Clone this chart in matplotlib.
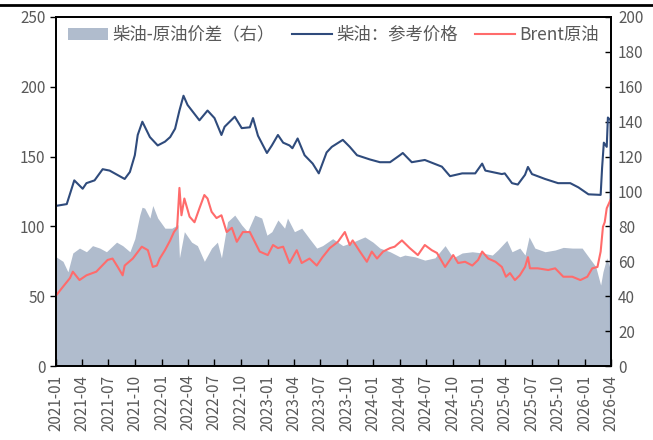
import matplotlib
matplotlib.use("Agg")
import matplotlib.pyplot as plt
import matplotlib.dates as mdates
from matplotlib.lines import Line2D
import pandas as pd

plt.rcParams['font.family'] = ['Noto Sans CJK SC', 'DejaVu Sans']

# 柴油：参考价格 (left axis)
diesel_dates = ["2021-01-01", "2021-01-03", "2021-02-07", "2021-03-05", "2021-04-03", "2021-04-16",
                "2021-05-14", "2021-06-11", "2021-07-05", "2021-08-26", "2021-09-13", "2021-09-30",
                "2021-10-10", "2021-10-26", "2021-11-21", "2021-12-18", "2022-01-12", "2022-01-30",
                "2022-02-16", "2022-03-03", "2022-03-17", "2022-03-31", "2022-05-11", "2022-06-08",
                "2022-07-02", "2022-07-26", "2022-08-06", "2022-09-10", "2022-10-04", "2022-11-01",
                "2022-11-12", "2022-11-29", "2022-12-30", "2023-01-16", "2023-02-06", "2023-02-24",
                "2023-03-18", "2023-03-28", "2023-04-15", "2023-05-09", "2023-06-06", "2023-06-27",
                "2023-07-24", "2023-08-11", "2023-09-18", "2023-10-12", "2023-11-06", "2023-12-20",
                "2024-01-24", "2024-02-28", "2024-04-02", "2024-04-12", "2024-05-13", "2024-06-27",
                "2024-08-25", "2024-09-22", "2024-11-03", "2024-12-18", "2025-01-11", "2025-01-22",
                "2025-03-20", "2025-03-30", "2025-04-24", "2025-05-14", "2025-06-08", "2025-06-18",
                "2025-07-02", "2025-08-16", "2025-09-30", "2025-11-11", "2025-12-09", "2026-01-13",
                "2026-02-24", "2026-03-01", "2026-03-07", "2026-03-17", "2026-03-21", "2026-03-30",
                "2026-04-01"]
diesel_vals = [114.5, 114.8, 116, 133, 127, 131,
               133, 141, 140, 134, 139, 151,
               165.5, 175, 164, 158, 160.7, 164,
               170, 183, 193.6, 187, 176, 183,
               177.6, 165.5, 171.4, 178.6, 170.4, 171,
               177.6, 165, 152.6, 158, 165.5, 160,
               158, 156, 163, 151, 145, 138,
               153, 157, 162, 157, 151, 148,
               146, 146, 151, 152.6, 146, 147.6,
               142.8, 136, 138, 138, 145, 140,
               137.5, 138, 131, 130, 137, 142.6,
               137.5, 134, 131, 131, 128, 123,
               122.6, 142, 160, 157, 178, 176,
               0]

# Brent原油 (left axis)
brent_dates = ["2021-01-01", "2021-01-25", "2021-02-18", "2021-02-28", "2021-03-23", "2021-04-16",
               "2021-05-20", "2021-06-28", "2021-07-15", "2021-08-02", "2021-08-19", "2021-08-26",
               "2021-09-23", "2021-10-24", "2021-11-14", "2021-12-01", "2021-12-15", "2021-12-25",
               "2022-01-12", "2022-01-30", "2022-02-12", "2022-02-23", "2022-03-03", "2022-03-10",
               "2022-03-20", "2022-04-07", "2022-04-24", "2022-05-11", "2022-05-28", "2022-06-08",
               "2022-06-22", "2022-07-09", "2022-07-26", "2022-08-13", "2022-08-31", "2022-09-17",
               "2022-10-08", "2022-11-01", "2022-11-18", "2022-12-05", "2023-01-02", "2023-01-20",
               "2023-02-06", "2023-02-24", "2023-03-18", "2023-04-12", "2023-04-29", "2023-05-26",
               "2023-06-20", "2023-07-10", "2023-08-04", "2023-09-01", "2023-09-25", "2023-10-12",
               "2023-10-22", "2023-11-16", "2023-12-10", "2023-12-27", "2024-01-14", "2024-02-04",
               "2024-02-28", "2024-03-15", "2024-04-09", "2024-05-06", "2024-06-03", "2024-06-27",
               "2024-07-21", "2024-08-08", "2024-09-05", "2024-10-03", "2024-10-20", "2024-11-13",
               "2024-12-08", "2024-12-28", "2025-01-11", "2025-02-01", "2025-02-26", "2025-03-20",
               "2025-04-03", "2025-04-17", "2025-05-04", "2025-05-21", "2025-06-08", "2025-06-18",
               "2025-06-25", "2025-07-22", "2025-08-27", "2025-09-20", "2025-10-18", "2025-11-18",
               "2025-12-16", "2026-01-09", "2026-01-26", "2026-02-13", "2026-02-24", "2026-03-04",
               "2026-03-10", "2026-03-17", "2026-03-30"]
brent_vals = [50.5, 56.8, 63, 67.6, 61.6, 65,
              67.6, 76, 77, 71, 65, 72,
              77, 85.5, 83, 71, 72, 77,
              83, 90, 96, 99, 127.6, 108,
              120, 107, 103, 113, 122.5, 120,
              110.5, 106, 108, 96, 99, 89,
              96, 96, 89, 82, 79.5, 86.7,
              84.5, 85.5, 73.8, 83, 73.8, 77,
              72, 78, 84.5, 89, 96, 86.7,
              90, 82, 74.7, 82, 77, 82,
              84.5, 85.5, 90, 84.5, 79.5, 86.7,
              83, 81, 71, 79.5, 73.8, 74.7,
              72, 76, 82, 77, 74.7, 71,
              64, 66.6, 61.6, 65, 71, 78,
              70, 70, 68.8, 70, 64, 64,
              61.6, 64, 70, 71, 82, 99.8,
              103, 113, 119]

# 柴油-原油价差（右） (right axis)
spread_dates = ["2021-01-01", "2021-01-25", "2021-02-11", "2021-02-28", "2021-03-23", "2021-04-16",
                "2021-05-07", "2021-06-01", "2021-06-24", "2021-07-29", "2021-08-19", "2021-09-13",
                "2021-09-30", "2021-10-17", "2021-10-25", "2021-11-03", "2021-11-21", "2021-12-01",
                "2021-12-18", "2022-01-12", "2022-02-05", "2022-02-26", "2022-03-03", "2022-03-20",
                "2022-04-14", "2022-05-04", "2022-05-28", "2022-06-22", "2022-07-12", "2022-07-26",
                "2022-08-16", "2022-09-10", "2022-10-04", "2022-10-24", "2022-11-18", "2022-12-12",
                "2022-12-30", "2023-01-16", "2023-02-06", "2023-03-01", "2023-03-11", "2023-04-04",
                "2023-04-29", "2023-05-26", "2023-06-20", "2023-07-10", "2023-08-14", "2023-09-18",
                "2023-10-22", "2023-12-03", "2023-12-31", "2024-01-24", "2024-02-28", "2024-04-02",
                "2024-04-19", "2024-05-24", "2024-06-27", "2024-08-01", "2024-09-05", "2024-10-03",
                "2024-11-03", "2024-12-08", "2025-01-11", "2025-02-15", "2025-03-06", "2025-04-06",
                "2025-04-24", "2025-05-21", "2025-06-08", "2025-06-22", "2025-07-12", "2025-08-16",
                "2025-09-20", "2025-10-18", "2025-11-18", "2025-12-22", "2026-01-13", "2026-02-07",
                "2026-02-24", "2026-03-04", "2026-03-17", "2026-03-30", "2026-04-01"]
spread_vals = [62.6, 60, 54, 64.8, 67.6, 65.5,
               69, 67.6, 65.5, 71, 69, 65.5,
               73, 86.5, 91, 90.5, 84.8, 92,
               84.8, 79, 79, 81, 62, 77,
               71, 69, 60, 67.6, 71, 62,
               82.7, 86.5, 80.8, 77, 86.5, 84.8,
               75, 77, 83.7, 79, 84.8, 77,
               79, 73, 67.6, 69, 73, 69,
               71, 74, 71, 67.6, 65.5, 62.6,
               63.6, 62.6, 60.7, 62, 69, 62,
               64.8, 65.5, 64.8, 63.6, 66.5, 72,
               65.5, 67.6, 63.6, 74, 67.6, 65.5,
               66.5, 68, 67.6, 67.6, 62.6, 57,
               46.4, 54, 62, 55, 0]

quarter_ticks = pd.date_range("2021-01-01", "2026-04-01", freq="QS")

fig = plt.figure(figsize=(6.53, 4.40), dpi=100)
ax = fig.add_axes([0.0858, 0.168, 0.85, 0.7934])
ax2 = ax.twinx()

ax2.fill_between(pd.to_datetime(spread_dates), spread_vals, color="#b0bccd", lw=0,
                 label="柴油-原油价差（右）")
ax.plot(pd.to_datetime(diesel_dates), diesel_vals, color="#2f4b7c", lw=1.5, label="柴油：参考价格")
ax.plot(pd.to_datetime(brent_dates), brent_vals, color="#ff6b6b", lw=1.5, label="Brent原油")

ax.set_zorder(ax2.get_zorder() + 1)
ax.patch.set_visible(False)

ax.set_xlim(pd.Timestamp("2021-01-01"), pd.Timestamp("2026-04-01"))
ax.set_ylim(0, 250)
ax2.set_ylim(0, 200)
ax.set_yticks(range(0, 251, 50))
ax2.set_yticks(range(0, 201, 20))
ax.set_xticks(quarter_ticks)
ax.xaxis.set_major_formatter(mdates.DateFormatter("%Y-%m"))

gray = "#595959"
ax.tick_params(axis="y", direction="out", length=4, width=1, colors="black", labelcolor=gray, labelsize=11)
ax.tick_params(axis="x", direction="in", length=5, width=1, colors="black", labelcolor=gray, labelsize=11,
               labelrotation=90, pad=6)
ax2.tick_params(axis="y", direction="in", length=4, width=1, colors="black", labelcolor=gray, labelsize=11,
                pad=5)

for a in (ax, ax2):
    for s in a.spines.values():
        s.set_color("black")
        s.set_linewidth(1.3)

h2, l2 = ax2.get_legend_handles_labels()
h1, l1 = ax.get_legend_handles_labels()
leg = ax.legend(h2 + h1, l2 + l1, loc="upper left", bbox_to_anchor=(0.0216, 0.975), ncol=3, frameon=False,
                fontsize=12.5, handlelength=2.3, handletextpad=0.25, columnspacing=1.0, labelcolor=gray,
                borderpad=0, borderaxespad=0)

fig.add_artist(Line2D([0, 1], [0.9886, 0.9886], color="black", lw=2, transform=fig.transFigure))

fig.savefig("out.png", dpi=100)
